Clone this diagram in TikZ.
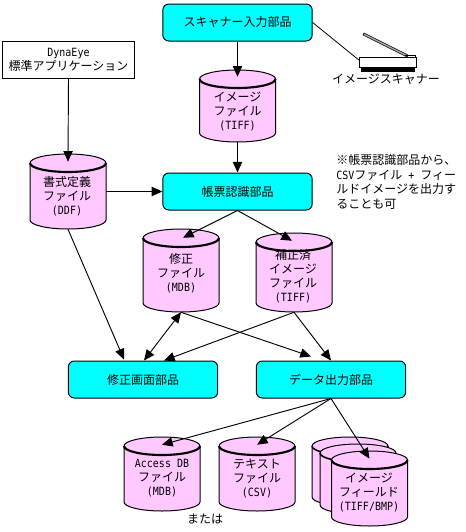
\documentclass[tikz,border=0pt]{standalone}
\usepackage{fontspec}
\usetikzlibrary{arrows.meta,calc}
\setmainfont{Noto Sans CJK JP}
\newfontfamily\latinpart[FakeStretch=0.88]{DejaVu Sans Mono}
\newcommand{\ltxt}[1]{{\latinpart\fontsize{8.5pt}{10.5pt}\selectfont #1}}
\definecolor{cylpink}{RGB}{255,200,255}
\definecolor{boxcyan}{RGB}{0,255,255}
\definecolor{lidgray}{RGB}{170,170,170}
\tikzset{
  px/.style={x=0.75pt,y=-0.75pt},
  proc/.style={draw=black,fill=boxcyan,line width=0.75pt,rounded corners=4.5pt,minimum width=112pt,minimum height=27.75pt,inner sep=0pt,font=\fontsize{9pt}{10.5pt}\selectfont},
  lab/.style={inner sep=0pt,align=center,font=\fontsize{9pt}{10.5pt}\selectfont},
  free/.style={inner sep=0pt,align=left,font=\fontsize{9pt}{11pt}\selectfont,anchor=west},
  anchorbox/.style={inner sep=0pt,minimum width=57pt},
  flow/.style={line width=0.7pt,-{Triangle[length=8pt,width=7pt]}},
  flowboth/.style={line width=0.7pt,{Triangle[length=8pt,width=7pt]}-{Triangle[length=8pt,width=7pt]}},
  plain/.style={line width=0.6pt},
}
% name, x centre, top, bottom, rim width
\newcommand{\cylshape}[5]{%
  \path[fill=cylpink,draw=black,line width=0.75pt]
    ({#2-38},{#3+9}) -- ({#2-38},{#4-9})
    arc[start angle=180,end angle=360,x radius=28.5pt,y radius=6.75pt]
    -- ({#2+38},{#3+9})
    arc[start angle=0,end angle=180,x radius=28.5pt,y radius=6.75pt] -- cycle;
  \draw[line width=#5] ({#2-38},{#3+9})
    arc[start angle=180,end angle=360,x radius=28.5pt,y radius=6.75pt];
  \node[anchorbox,minimum height={(#4-#3)*0.75pt}] (#1) at (#2,{(#3+#4)/2}) {};
}
\begin{document}
\begin{tikzpicture}[px]
\useasboundingbox (0,0) rectangle (466,532);

% process boxes
\node[proc] (scanin) at (237.5,22.5) {スキャナー入力部品};
\node[proc] (recog) at (237.5,191.5) {帳票認識部品};
\node[proc] (fix) at (143,379.5) {修正画面部品};
\node[proc] (out) at (331,379.5) {データ出力部品};
\node[draw=black,fill=white,line width=0.75pt,minimum width=99pt,minimum height=27.75pt,inner sep=0pt,lab] (app) at (68.5,60)
  {\ltxt{DynaEye}\\標準アプリケーション};

% cylinders
\cylshape{img}{237.5}{70}{142}{1.6pt}
\node[lab] (imgt) at (237.5,111) {イメージ\\ファイル\\\ltxt{(TIFF)}};
\cylshape{ddf}{68}{154}{229}{1.6pt}
\node[lab] (ddft) at (67,196) {書式定義\\ファイル\\\ltxt{(DDF)}};
\cylshape{shu}{181}{229}{312}{1.6pt}
\node[lab] (shut) at (181,273) {修正\\ファイル\\\ltxt{(MDB)}};
\cylshape{hos}{294}{233}{312}{1.6pt}
\node[lab] (host) at (293,276) {補正済\\イメージ\\ファイル\\\ltxt{(TIFF)}};
\cylshape{acc}{162}{437}{511}{1.6pt}
\node[lab] (acct) at (162,478) {\ltxt{Access DB}\\ファイル\\\ltxt{(MDB)}};
\cylshape{txt}{257}{437}{511}{1.6pt}
\node[lab] (txtt) at (257,478) {テキスト\\ファイル\\\ltxt{(CSV)}};
\cylshape{fa}{350}{437}{506}{1.2pt}
\cylshape{fb}{358}{444}{514}{1.2pt}
\cylshape{fc}{369.5}{451}{526}{1.6pt}
\node[lab] (fct) at (369,492) {イメージ\\フィールド\\\ltxt{(TIFF/BMP)}};

% scanner
\draw[draw=black,fill=lidgray,line width=0.5pt] (364,33) -- (408,55) -- (407,57) -- (363,35) -- cycle;
\draw[line width=0.5pt] (405,55.5) -- (415,55.5) -- (415,57);
\node[draw=black,fill=white,line width=0.75pt,minimum width=43pt,minimum height=7.5pt,inner sep=0pt] (scanner) at (388,62) {};
\fill[black] (361,67) rectangle (415,72);
\node[lab] (scanlab) at (386,79) {イメージスキャナー};

% free texts
\node[free] (note) at (336,182) {※帳票認識部品から、\\\ltxt{CSV}ファイル\ltxt{\ +\ }フィー\\ルドイメージを出力す\\ることも可};
\node[lab] (or) at (205,519) {または};

% connectors
\draw[plain] (scanin.east) -- ($(scanner.west)+(0,-2)$);
\draw[flow] (app.south) -- ($(ddf.north)+(0,8)$);
\draw[flow] (scanin.south) -- ($(img.north)+(0,7)$);
\draw[flow] (img.south) -- (recog.north);
\draw[flow] (ddf.east) -- (recog.west);
\draw[flow] (recog.south) -- ($(shu.north)+(2,9)$);
\draw[flow] (recog.south) -- ($(hos.north)+(-2,8)$);
\draw[flow] (ddf.south) -- ($(fix.north)+(-19,-1)$);
\draw[flowboth] (shu.south) -- ($(fix.north)+(1,0)$);
\draw[flow] (hos.south) -- ($(fix.north)+(21,0)$);
\draw[flow] (shu.south) -- ($(out.north)+(-20,-4)$);
\draw[flow] (hos.south) -- (out.north);
\draw[flow] (out.south) -- ($(acc.north)+(0,8)$);
\draw[flow] (out.south) -- ($(txt.north)+(0,8)$);
\draw[flow] (out.south) -- ($(fc.north)+(0,8)$);
\end{tikzpicture}
\end{document}
